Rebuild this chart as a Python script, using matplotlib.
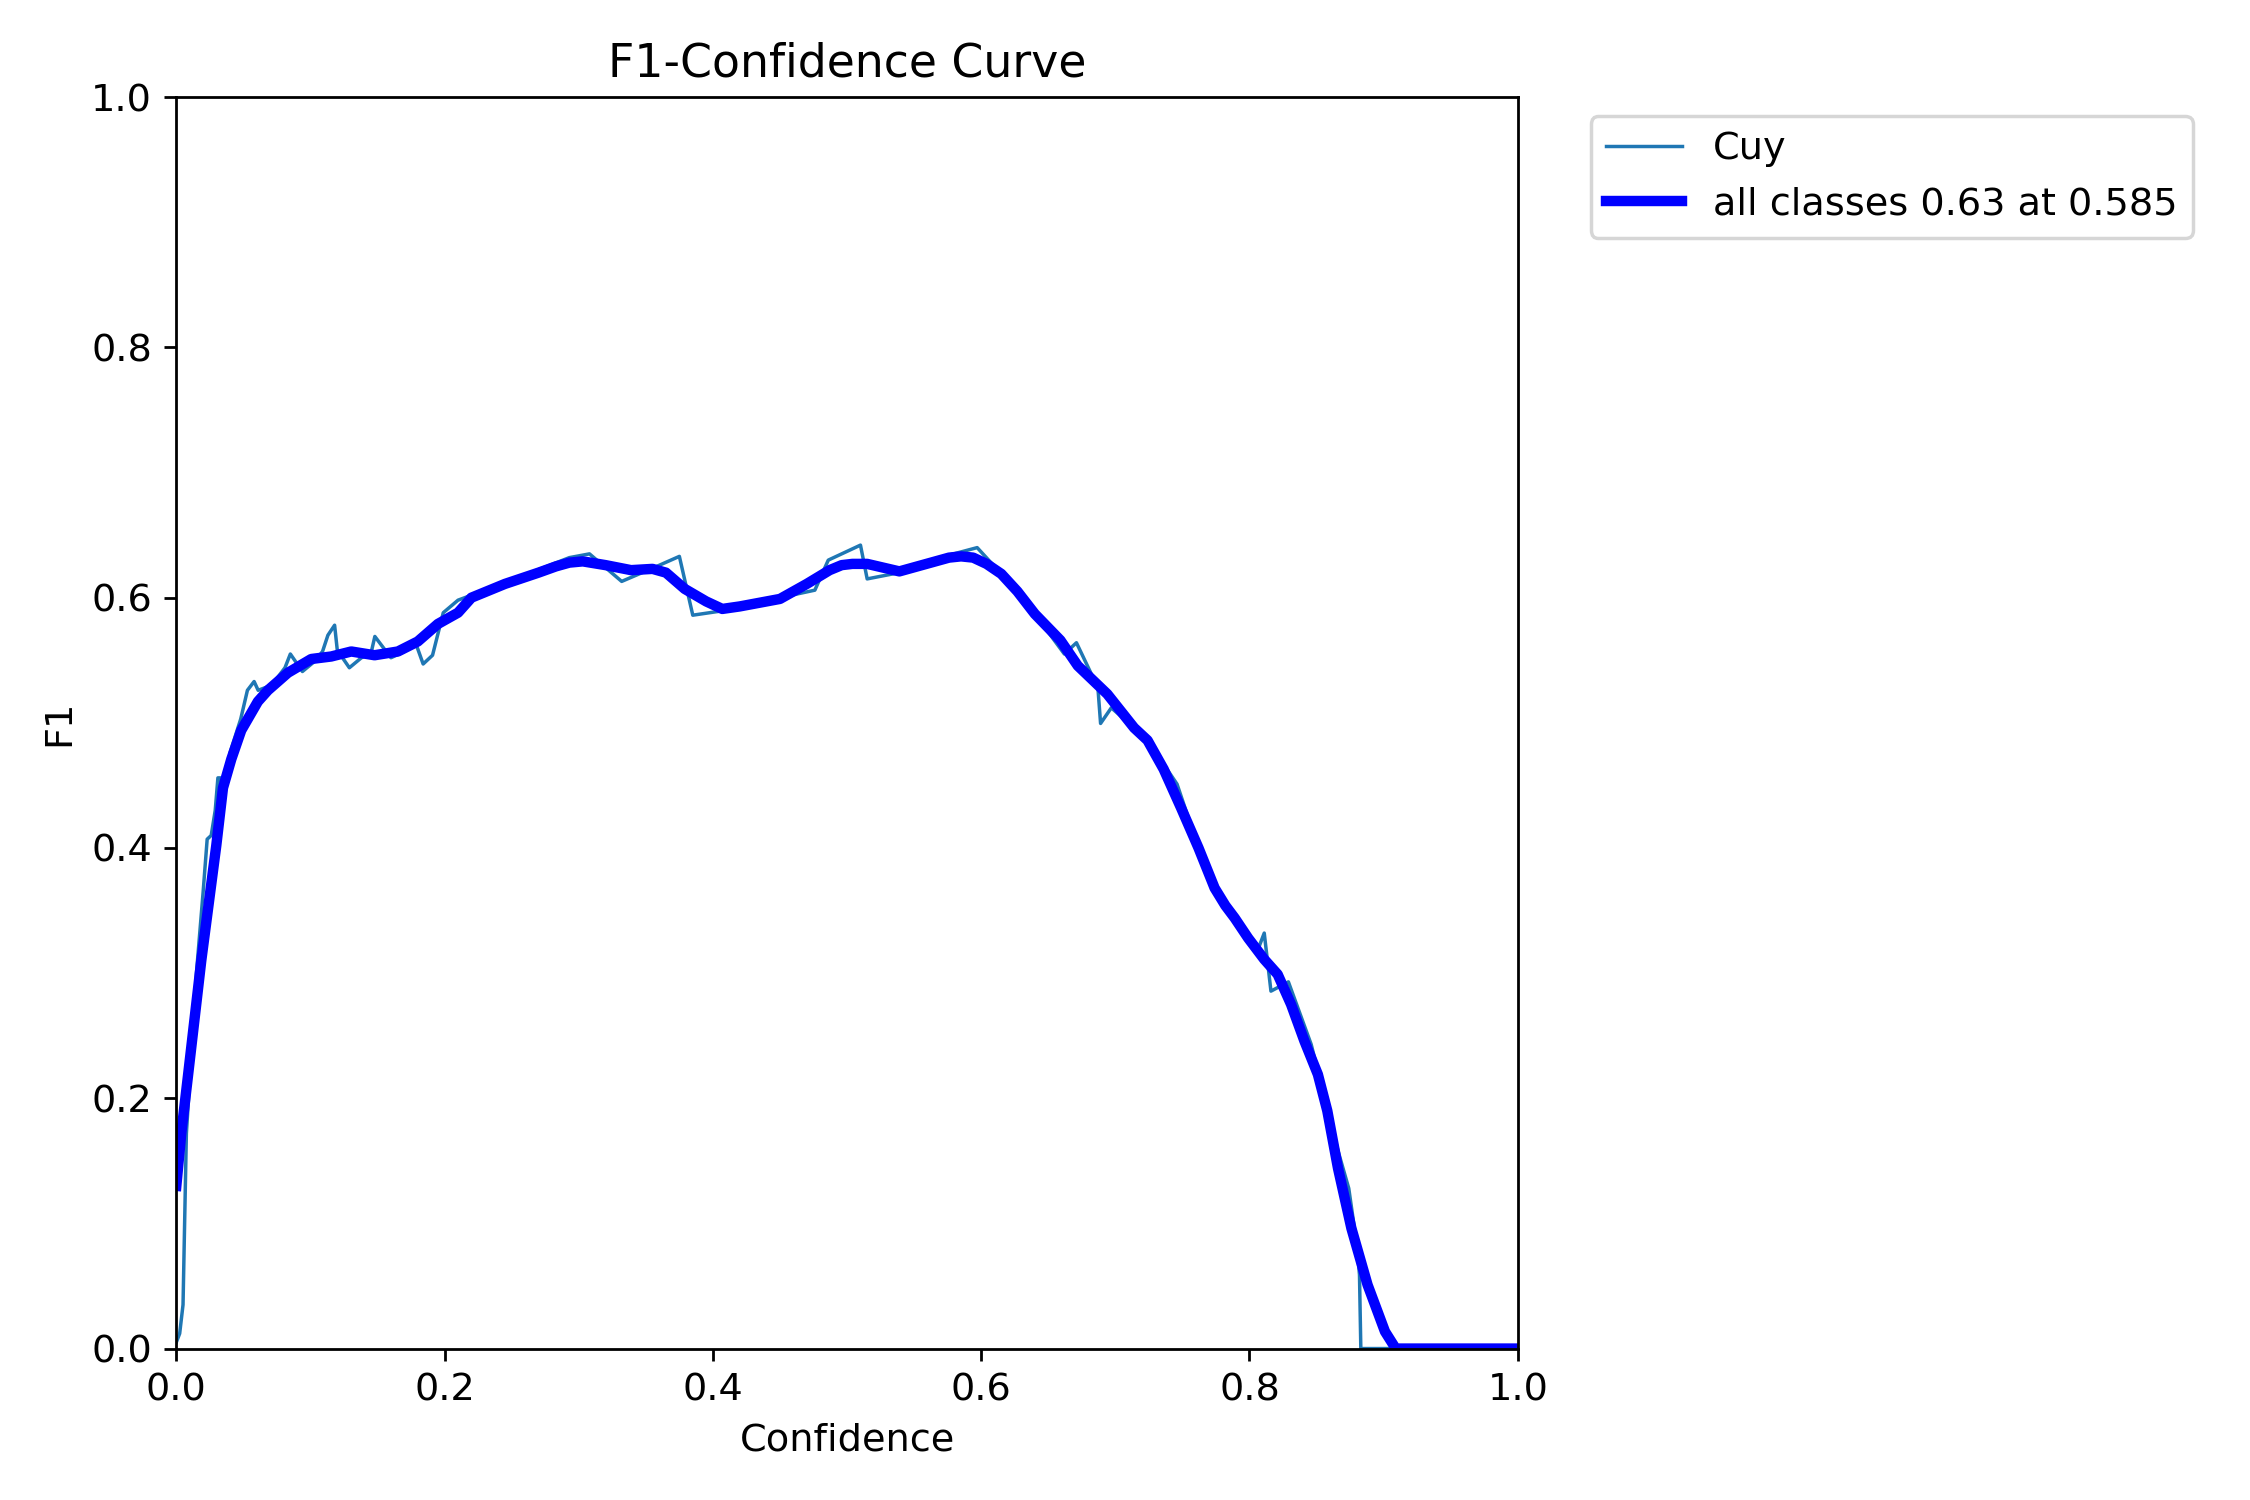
import matplotlib
matplotlib.use("Agg")
import matplotlib.pyplot as plt

cls_conf = [0.0, 0.0025, 0.005, 0.0075, 0.015, 0.02, 0.023, 0.026, 0.029, 0.031, 0.033, 0.035,
            0.04, 0.048, 0.053, 0.058, 0.061, 0.071, 0.081, 0.085, 0.094, 0.103, 0.109, 0.113,
            0.118, 0.120, 0.129, 0.138, 0.145, 0.148, 0.160, 0.170, 0.178, 0.184, 0.191, 0.199,
            0.210, 0.245, 0.293, 0.308, 0.332, 0.356, 0.375, 0.385, 0.404, 0.450, 0.476, 0.486,
            0.510, 0.515, 0.539, 0.576, 0.597, 0.615, 0.640, 0.662, 0.671, 0.687, 0.689, 0.697,
            0.714, 0.724, 0.746, 0.772, 0.789, 0.806, 0.811, 0.816, 0.829, 0.846, 0.866, 0.874,
            0.880, 0.882, 0.883, 1.0]
cls_f1 = [0.005, 0.012, 0.035, 0.172, 0.300, 0.365, 0.407, 0.41, 0.43, 0.456, 0.456, 0.44,
          0.476, 0.503, 0.526, 0.533, 0.526, 0.53, 0.544, 0.555, 0.541, 0.549, 0.557, 0.570,
          0.578, 0.558, 0.544, 0.552, 0.555, 0.569, 0.552, 0.557, 0.565, 0.547, 0.554, 0.588,
          0.598, 0.612, 0.632, 0.635, 0.613, 0.624, 0.633, 0.586, 0.589, 0.600, 0.606, 0.630,
          0.642, 0.615, 0.620, 0.634, 0.640, 0.619, 0.587, 0.555, 0.564, 0.528, 0.4995, 0.512,
          0.496, 0.486, 0.451, 0.368, 0.344, 0.318, 0.332, 0.2856, 0.293, 0.243, 0.158, 0.128,
          0.083, 0.059, 0.0, 0.0]

all_conf = [0.0, 0.0037, 0.0087, 0.0186, 0.0298, 0.0348, 0.041, 0.0484, 0.0608, 0.0683, 0.0832,
            0.1006, 0.1155, 0.1304, 0.1478, 0.1652, 0.180, 0.195, 0.210, 0.220, 0.245, 0.270,
            0.283, 0.293, 0.303, 0.320, 0.339, 0.355, 0.365, 0.379, 0.395, 0.407, 0.420, 0.450,
            0.470, 0.487, 0.496, 0.504, 0.515, 0.539, 0.576, 0.585, 0.594, 0.604, 0.615, 0.627,
            0.640, 0.659, 0.672, 0.694, 0.714, 0.724, 0.736, 0.749, 0.762, 0.774, 0.782, 0.789,
            0.799, 0.811, 0.821, 0.831, 0.841, 0.851, 0.858, 0.866, 0.876, 0.888, 0.901, 0.909, 1.0]
all_f1 = [0.13, 0.172, 0.218, 0.310, 0.402, 0.448, 0.471, 0.494, 0.517, 0.526, 0.540,
          0.551, 0.553, 0.557, 0.554, 0.557, 0.565, 0.579, 0.588, 0.600, 0.611, 0.620,
          0.625, 0.628, 0.629, 0.626, 0.622, 0.623, 0.620, 0.607, 0.597, 0.591, 0.593, 0.599,
          0.611, 0.622, 0.626, 0.627, 0.627, 0.621, 0.632, 0.633, 0.632, 0.627, 0.619, 0.605,
          0.587, 0.566, 0.5456, 0.523, 0.496, 0.486, 0.463, 0.432, 0.400, 0.368, 0.354, 0.344,
          0.328, 0.311, 0.299, 0.275, 0.2456, 0.219, 0.190, 0.144, 0.096, 0.051, 0.0136, 0.0, 0.0]

class_name = "Cuy"
all_label = "all classes 0.63 at 0.585"

plt.rcParams["font.size"] = 11

fig, ax = plt.subplots(1, 1, figsize=(9, 6), tight_layout=True)
ax.plot(cls_conf, cls_f1, linewidth=1, label=class_name)
ax.plot(all_conf, all_f1, linewidth=3, color="blue", label=all_label,
        solid_joinstyle="round")
ax.set_xlabel("Confidence")
ax.set_ylabel("F1")
ax.set_xlim(0, 1)
ax.set_ylim(0, 1)
ax.legend(bbox_to_anchor=(1.04, 1), loc="upper left")
ax.set_title("F1-Confidence Curve")
fig.savefig("out.png", dpi=250)
